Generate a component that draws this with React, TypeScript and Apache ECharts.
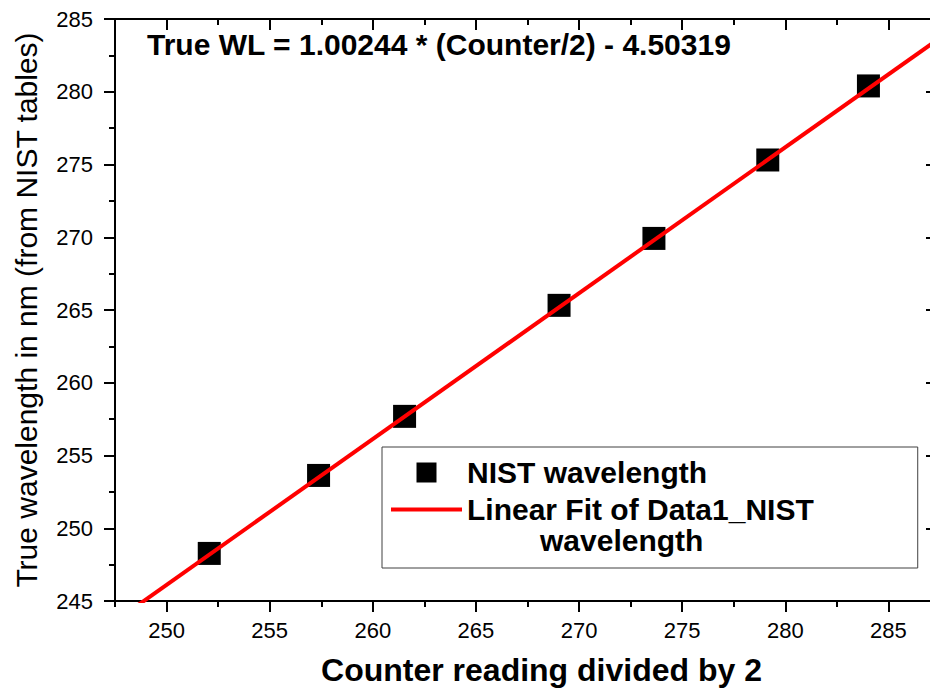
import React, { useEffect, useRef } from "react";
import * as echarts from "echarts";

// Data
const counterHalf = [252.07, 257.37, 261.54, 269.03, 273.63, 279.15, 284.03];
const nistWavelength = [248.27, 253.63, 257.69, 265.32, 269.92, 275.31, 280.4];
const fitX = [247.5, 287.5];
const fitY = [243.6, 283.7];
const xMajorTicks = [250, 255, 260, 265, 270, 275, 280, 285];
const xMinorTicks = [247.5, 252.5, 257.5, 262.5, 267.5, 272.5, 277.5, 282.5, 287.5];
const xRange = [247.5, 287.5];
const yRange = [245, 285];
const yInterval = 5;

const titleText = "True WL = 1.00244 * (Counter/2) - 4.50319";
const xName = "Counter reading divided by 2";
const yName = "True wavelength in nm (from NIST tables)";
const scatterName = "NIST wavelength";
const fitName = "Linear Fit of Data1_NIST wavelength";

const FONT = "Liberation Sans";

export default function App() {
  const ref = useRef<HTMLDivElement>(null);

  useEffect(() => {
    if (!ref.current) return;
    const chart = echarts.init(ref.current, undefined, { renderer: "svg" });

    const axisLine = { show: true, lineStyle: { color: "#000", width: 2 } };
    const majorTick = (inside: boolean, values?: number[], length = 11) => ({
      show: true,
      inside,
      length,
      lineStyle: { color: "#000", width: 2 },
      ...(values ? { customValues: values } : {}),
    });
    const minorTickStyle = (inside: boolean, values: number[]) => ({
      show: true,
      inside,
      length: 6,
      lineStyle: { color: "#000", width: 2 },
      customValues: values,
    });

    const option: any = {
      animation: false,
      backgroundColor: "#fff",
      title: {
        text: titleText,
        left: 147,
        top: 29,
        padding: 0,
        textStyle: {
          fontFamily: FONT,
          fontWeight: "bold",
          fontSize: 30,
          lineHeight: 30,
          color: "#000",
        },
      },
      legend: {
        orient: "vertical",
        left: 382,
        top: 447,
        padding: [10, 104, 12, 9],
        itemWidth: 71,
        itemHeight: 20,
        itemGap: -25,
        borderColor: "#404040",
        borderWidth: 1,
        selectedMode: false,
        symbolKeepAspect: true,
        data: [
          {
            name: scatterName,
            icon: "path://M0,0L20,0L20,20L0,20Z",
            itemStyle: { color: "#000", borderWidth: 0 },
          },
          {
            name: fitName,
            icon: "path://M0,0L71,0L71,4L0,4Z",
            itemStyle: { color: "#ff0000", borderWidth: 0 },
            lineStyle: { width: 0 },
          },
        ],
        formatter: (name: string) =>
          name === fitName ? "\nLinear Fit of Data1_NIST\n{b|wavelength}" : name,
        textStyle: {
          fontFamily: FONT,
          fontWeight: "bold",
          fontSize: 30,
          lineHeight: 31,
          color: "#000",
          rich: {
            b: {
              fontFamily: FONT,
              fontWeight: "bold",
              fontSize: 30,
              lineHeight: 31,
              color: "#000",
              padding: [0, 0, 0, 73],
            },
          },
        },
      },
      grid: { left: 115, top: 19, right: 0, bottom: 95, containLabel: false },
      xAxis: [
        {
          type: "value",
          position: "bottom",
          min: xRange[0],
          max: xRange[1],
          axisLine,
          axisTick: majorTick(false, xMajorTicks),
          axisLabel: {
            show: true,
            customValues: xMajorTicks,
            fontFamily: FONT,
            fontSize: 22,
            color: "#000",
            margin: 18,
          },
          splitLine: { show: false },
          name: xName,
          nameLocation: "middle",
          nameGap: 53,
          nameTextStyle: {
            fontFamily: FONT,
            fontWeight: "bold",
            fontSize: 32,
            color: "#000",
            padding: [0, 0, 0, 28],
          },
        },
        {
          type: "value",
          position: "bottom",
          offset: 0,
          min: xRange[0],
          max: xRange[1],
          axisLine: { show: false },
          axisTick: minorTickStyle(false, xMinorTicks),
          axisLabel: { show: false, customValues: xMinorTicks },
          splitLine: { show: false },
        },
        {
          type: "value",
          position: "top",
          offset: 0,
          min: xRange[0],
          max: xRange[1],
          axisLine,
          axisTick: majorTick(true, xMajorTicks),
          axisLabel: { show: false, customValues: xMajorTicks },
          splitLine: { show: false },
        },
        {
          type: "value",
          position: "top",
          offset: 0,
          min: xRange[0],
          max: xRange[1],
          axisLine: { show: false },
          axisTick: minorTickStyle(true, xMinorTicks),
          axisLabel: { show: false, customValues: xMinorTicks },
          splitLine: { show: false },
        },
      ],
      yAxis: [
        {
          type: "value",
          position: "left",
          min: yRange[0],
          max: yRange[1],
          interval: yInterval,
          axisLine,
          axisTick: majorTick(false),
          minorTick: { show: true, splitNumber: 2, length: 6, lineStyle: { color: "#000", width: 2 } },
          minorSplitLine: { show: false },
          axisLabel: { fontFamily: FONT, fontSize: 22, color: "#000", margin: 22 },
          splitLine: { show: false },
          name: yName,
          nameLocation: "middle",
          nameGap: 74,
          nameTextStyle: { fontFamily: FONT, fontSize: 30, color: "#000" },
        },
        {
          type: "value",
          position: "right",
          min: yRange[0],
          max: yRange[1],
          interval: yInterval,
          axisLine: { show: false },
          axisTick: majorTick(true, undefined, 14),
          minorTick: { show: true, splitNumber: 2, length: 6, lineStyle: { color: "#000", width: 2 } },
          axisLabel: { show: false },
          splitLine: { show: false },
        },
      ],
      series: [
        {
          name: fitName,
          type: "line",
          xAxisIndex: 0,
          yAxisIndex: 0,
          data: fitX.map((x, i) => [x, fitY[i]]),
          symbol: "none",
          clip: true,
          lineStyle: { color: "#ff0000", width: 4 },
          itemStyle: { color: "#ff0000" },
          z: 3,
        },
        {
          name: scatterName,
          type: "scatter",
          xAxisIndex: 0,
          yAxisIndex: 0,
          data: counterHalf.map((x, i) => [x, nistWavelength[i]]),
          symbol: "rect",
          symbolSize: 23,
          itemStyle: { color: "#000", opacity: 1 },
          z: 2,
        },
      ],
    };

    chart.setOption(option);
    return () => chart.dispose();
  }, []);

  return (
    <div
      style={{
        position: "fixed",
        left: 0,
        top: 0,
        width: 930,
        height: 696,
        overflow: "hidden",
        background: "#fff",
      }}
    >
      <div ref={ref} style={{ width: 940, height: 696 }} />
    </div>
  );
}
